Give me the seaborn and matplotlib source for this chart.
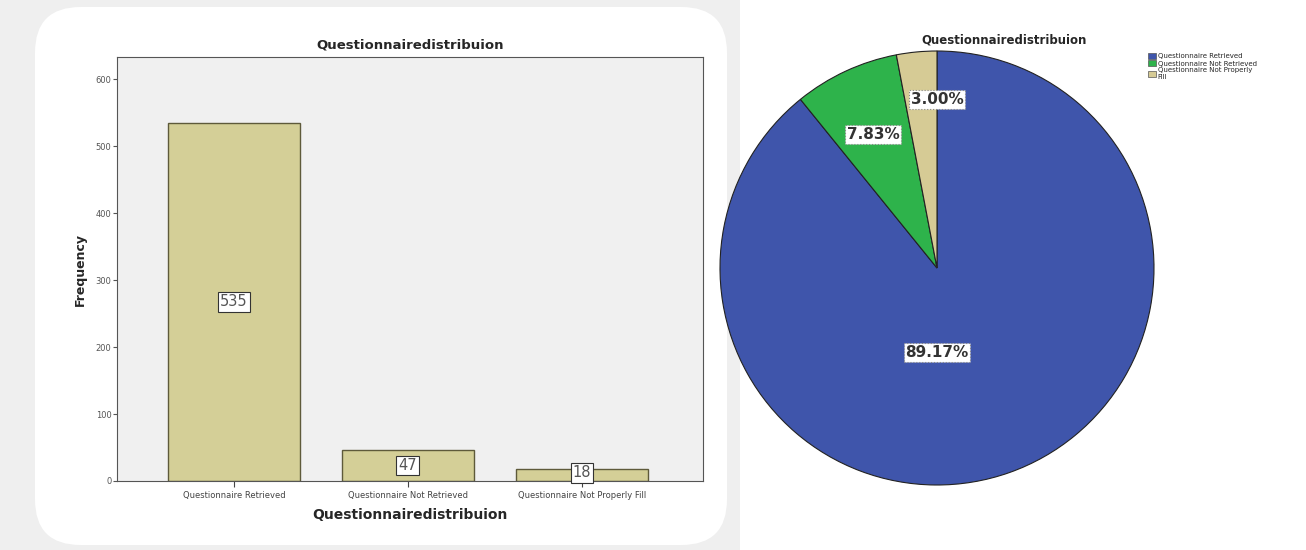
import matplotlib
matplotlib.use("Agg")
import matplotlib.pyplot as plt
import seaborn as sns
import pandas as pd
from matplotlib.patches import FancyBboxPatch, Rectangle, Patch

categories = ["Questionnaire Retrieved", "Questionnaire Not Retrieved", "Questionnaire Not Properly Fill"]
legend_labels = ["Questionnaire Retrieved", "Questionnaire Not Retrieved", "Questionnaire Not Properly\nFill"]
counts = [535, 47, 18]
yticks = [0, 100, 200, 300, 400, 500, 600]
title = "Questionnairedistribuion"

bar_color = "#D4CF97"
bar_edge = "#5E5A3A"
pie_colors = ["#3F55AB", "#2EB34B", "#D6CB95"]

sns.set_theme(style="white")
plt.rcParams['font.family'] = ['DejaVu Sans']

fig = plt.figure(figsize=(13.06, 5.5), dpi=100)
fig.patch.set_facecolor("white")

# background card for the left panel
fig.patches.append(Rectangle((0, 0), 740/1306, 1, transform=fig.transFigure,
                             fc="#EFEFEF", ec="none", zorder=-3))
fig.patches.append(FancyBboxPatch((35/1306, 5/550), 692/1306, 538/550,
                                  boxstyle="round,pad=0,rounding_size=0.035",
                                  transform=fig.transFigure, fc="white", ec="none",
                                  lw=0, zorder=-2, mutation_aspect=1306/550))

# ---- bar chart ----
ax = fig.add_axes([117/1306, (550-481)/550, 586/1306, 424/550])
df = pd.DataFrame({"cat": categories, "count": counts})
sns.barplot(data=df, x="cat", y="count", ax=ax, color=bar_color,
            edgecolor=bar_edge, linewidth=1.0, width=0.76, saturation=1)
ax.set_facecolor("#F0F0F0")
ax.set_xlim(-0.672, 2.695)
ax.set_ylim(0, 633)
ax.set_yticks(yticks)
ax.tick_params(axis="y", labelsize=6, colors="#555555", length=3, width=0.8, left=True, pad=1)
ax.tick_params(axis="x", labelsize=6, colors="#444444", length=4, width=0.8, bottom=True, pad=3)
for s in ax.spines.values():
    s.set_color("#555555")
    s.set_linewidth(0.8)
ax.set_xlabel(title, fontsize=10, fontweight="bold", labelpad=6)
ax.set_ylabel("Frequency", fontsize=9, fontweight="bold", labelpad=6)
ax.set_title(title, fontsize=9.5, fontweight="bold", pad=6)
for i, v in enumerate(counts):
    y = v / 2 if v > 100 else max(v / 2, 12)
    ax.text(i, y, str(v), ha="center", va="center", fontsize=10.5, color="#555555",
            bbox=dict(boxstyle="square,pad=0.15", fc="white", ec="#333333", lw=0.8))

# ---- pie chart ----
pax = fig.add_axes([720/1306, (550-485)/550, 434/1306, 434/550])
total = sum(counts)
wedges, _ = pax.pie(counts, colors=pie_colors, startangle=90, counterclock=False,
                    wedgeprops=dict(edgecolor="#222222", linewidth=0.8), radius=1.0)
pax.set_xlim(-1.0, 1.0)
pax.set_ylim(-1.0, 1.0)
pax.set_aspect("equal")
pax.axis("off")
label_pos = [(0.0, -0.39), (-0.295, 0.615), (0.0, 0.775)]
for (x, y), v in zip(label_pos, counts):
    pax.text(x, y, f"{100*v/total:.2f}%", ha="center", va="center", fontsize=11,
             fontweight="bold", color="#333333",
             bbox=dict(boxstyle="square,pad=0.12", fc="white", ec="#888888", lw=0.8, ls=":"))

fig.text(1004/1306, 1 - 40/550, title, ha="center", va="center", fontsize=8.5, fontweight="bold")
handles = [Patch(fc=c, ec="#555555", lw=0.5) for c in pie_colors]
fig.legend(handles, legend_labels, loc="upper left", bbox_to_anchor=(1148/1306, 1 - 53/550),
           fontsize=5, frameon=False, handlelength=1.2, handleheight=1.0,
           handletextpad=0.2, labelspacing=0.1, borderaxespad=0, borderpad=0)

fig.savefig("out.png", dpi=100, facecolor=fig.get_facecolor())
